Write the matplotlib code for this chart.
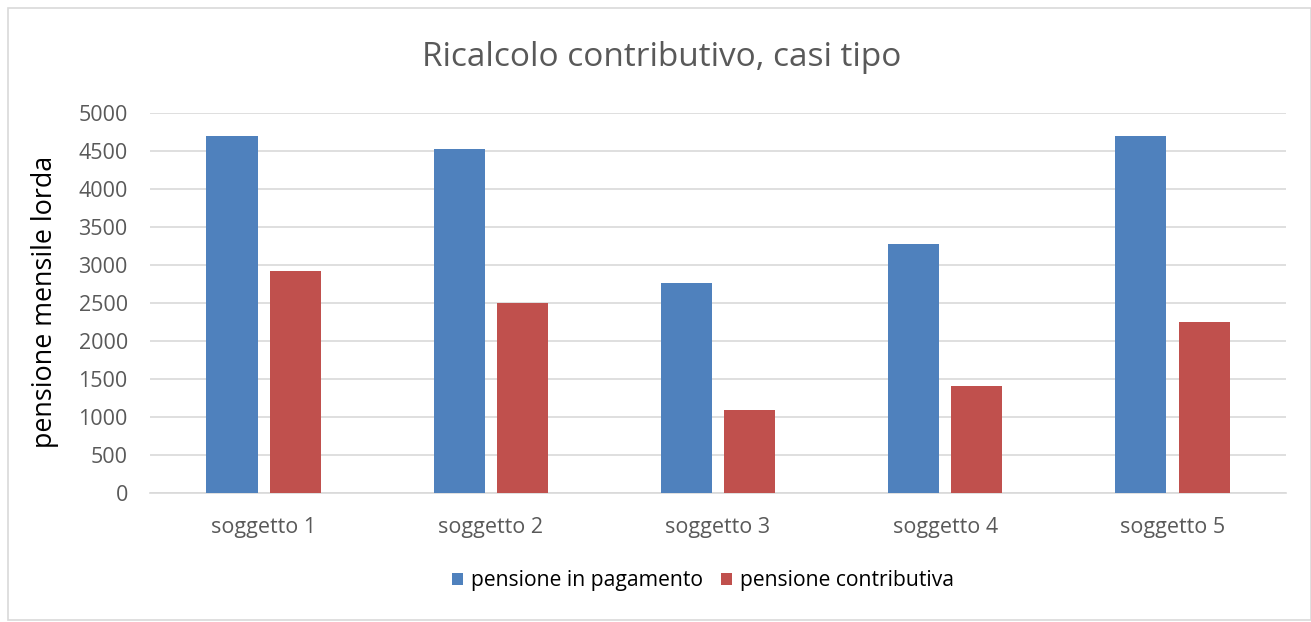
import matplotlib.pyplot as plt
import numpy as np
from matplotlib.patches import Rectangle

# dati
soggetti = ["soggetto 1", "soggetto 2", "soggetto 3", "soggetto 4", "soggetto 5"]
in_pagamento = [4700, 4530, 2760, 3270, 4700]
contributiva = [2920, 2500, 1090, 1410, 2250]

plt.rcParams['font.family'] = ['Open Sans', 'DejaVu Sans']

fig = plt.figure(figsize=(13.11, 6.22), dpi=100)
ax = fig.add_axes([0.1144, 0.2074, 0.8666, 0.6109])

# bordo esterno del grafico
fig.patches.append(Rectangle((0.006, 0.003), 0.994, 0.984, transform=fig.transFigure,
                             fill=False, edgecolor='#d9d9d9', linewidth=1.2))

ind = np.arange(len(soggetti))
w = 0.225
ax.bar(ind - 0.139, in_pagamento, width=w, color='#4f81bd', label='pensione in pagamento', zorder=3)
ax.bar(ind + 0.139, contributiva, width=w, color='#c0504d', label='pensione contributiva', zorder=3)

ax.set_xlim(-0.5, len(soggetti) - 0.5)
ax.set_ylim(0, 5000)
ax.set_yticks(np.arange(0, 5001, 500))
ax.set_xticks(ind)
ax.set_xticklabels(soggetti)
ax.yaxis.grid(True, color='#d9d9d9', linewidth=1.2, zorder=0)
ax.tick_params(axis='both', length=0, labelsize=15.5, colors='#595959')
ax.tick_params(axis='y', pad=16)
ax.tick_params(axis='x', pad=17)
for s in ['top', 'right', 'left']:
    ax.spines[s].set_visible(False)
ax.spines['bottom'].set_color('#d9d9d9')
ax.spines['bottom'].set_linewidth(1.2)

fig.text(45 / 1311, 1 - 301.5 / 622, "pensione mensile lorda", rotation=90,
         ha='center', va='center', fontsize=19.4, color='black')
fig.text(0.505, 0.907, "Ricalcolo contributivo, casi tipo", ha='center', va='center',
         fontsize=24, color='#595959')

fig.legend(loc='center', bbox_to_anchor=(0.536, 0.066), ncol=2, frameon=False,
           fontsize=15.2, handlelength=0.55, handleheight=0.55, columnspacing=0.85,
           handletextpad=0.35, labelcolor='black')

plt.savefig('out.png', dpi=100)
